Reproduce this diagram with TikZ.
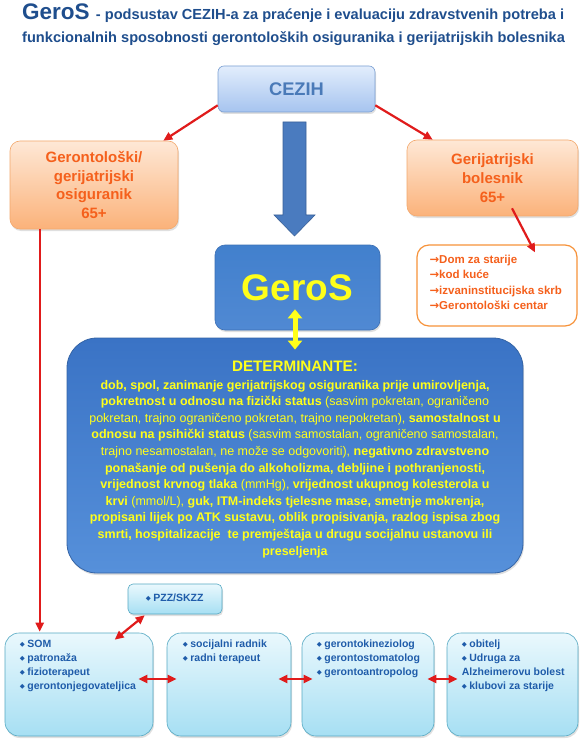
\documentclass[tikz,border=0pt]{standalone}
\usepackage{fontspec}
\setmainfont{Liberation Sans}
\newfontfamily\dejavu{DejaVu Sans}
\usetikzlibrary{arrows.meta,calc,shadows}
\definecolor{titleblue}{HTML}{1F4E8D}
\definecolor{cezihtext}{HTML}{4A7AB8}
\definecolor{cezihtop}{HTML}{E2EDFC}
\definecolor{cezihbot}{HTML}{A6C4EF}
\definecolor{cezihline}{HTML}{7A9FD3}
\definecolor{orangetext}{HTML}{F5601C}
\definecolor{orangetop}{HTML}{FEE8D6}
\definecolor{orangebot}{HTML}{FBB27A}
\definecolor{orangeline}{HTML}{F3A86C}
\definecolor{listline}{HTML}{F7923A}
\definecolor{arrowred}{HTML}{E01B1B}
\definecolor{bigarrow}{HTML}{4A7BBF}
\definecolor{bigarrowline}{HTML}{3A6199}
\definecolor{gerostop}{HTML}{4280CD}
\definecolor{gerosbot}{HTML}{5089D3}
\definecolor{gerosline}{HTML}{3B6FB5}
\definecolor{dettop}{HTML}{3A73C5}
\definecolor{detbot}{HTML}{5690DA}
\definecolor{detline}{HTML}{3464A6}
\definecolor{yel}{HTML}{FFFF1A}
\definecolor{cyantop}{HTML}{EAF8FD}
\definecolor{cyanbot}{HTML}{A6DFF3}
\definecolor{cyanline}{HTML}{55A9C3}
\definecolor{listblue}{HTML}{1F5CAA}
\newcommand\myfs[2]{\fontsize{#1}{#2}\selectfont}
\newcommand\mybul{{\dejavu\myfs{6.5}{7}\raisebox{0.8pt}{◆}}\hspace{2.5pt}}
\newcommand\myarr{{\dejavu\bfseries →}}
\begin{document}
\begin{tikzpicture}[x=1pt,y=-1pt,
  shad/.style={drop shadow={shadow xshift=1pt,shadow yshift=-2pt,opacity=0.25}},
  cezihbox/.style={shade,top color=cezihtop,bottom color=cezihbot,draw=cezihline,line width=0.6pt,rounded corners=6pt,shad,inner sep=0pt},
  orangebox/.style={shade,top color=orangetop,bottom color=orangebot,draw=orangeline,line width=0.6pt,rounded corners=10pt,shad,inner sep=0pt,align=center,text=orangetext,font=\bfseries\myfs{15}{18.7}},
  listbox/.style={fill=white,draw=listline,line width=1.2pt,rounded corners=12pt,inner sep=0pt},
  cyanbox/.style={shade,top color=cyantop,bottom color=cyanbot,draw=cyanline,line width=0.6pt,rounded corners=14pt,shad,inner sep=0pt},
  cyantext/.style={anchor=base west,inner sep=0pt,align=left,text=listblue,font=\bfseries\myfs{10.5}{14}},
  redarrow/.style={draw=arrowred,line width=2.2pt,-{Triangle[length=9pt,width=8pt]}},
  redboth/.style={draw=arrowred,line width=2.2pt,{Triangle[length=9pt,width=8pt]}-{Triangle[length=9pt,width=8pt]}},
  yelarrow/.style={draw=yel,line width=5pt,{Triangle[length=9pt,width=14pt]}-{Triangle[length=9pt,width=14pt]}}
]
\useasboundingbox[fill=white] (0,0) rectangle (585,743);

% title
\node[anchor=base west,inner sep=0pt,text=titleblue,font=\bfseries] (title1) at (22,20)
  {{\myfs{22.5}{26}GeroS }{\myfs{14.6}{16}- podsustav CEZIH-a za praćenje i evaluaciju zdravstvenih potreba i}};
\node[anchor=base west,inner sep=0pt,text=titleblue,font=\bfseries\myfs{14.6}{16}] (title2) at (22,43)
  {funkcionalnih sposobnosti gerontoloških osiguranika i gerijatrijskih bolesnika};

% top boxes
\node[cezihbox,minimum width=157pt,minimum height=46pt,text=cezihtext,font=\bfseries\myfs{18.3}{20}] (cezih) at (296.5,89) {CEZIH};
\node[orangebox,minimum width=168pt,minimum height=88pt] (geront) at (94,185) {Gerontološki/\\gerijatrijski\\osiguranik\\65+};
\node[orangebox,minimum width=171pt,minimum height=76pt] (gerijat) at (492.5,178) {Gerijatrijski\\bolesnik\\65+};

\node[listbox,minimum width=160pt,minimum height=81pt] (list) at (497,285.5) {};
\node[anchor=base west,inner sep=0pt,align=left,text=orangetext,font=\bfseries\myfs{11.5}{15.3}] (listtext) at ($(list.north west)+(13,65)$)
  {\myarr Dom za starije\\\myarr kod kuće\\\myarr izvaninstitucijska skrb\\\myarr Gerontološki centar};

% big arrow
\filldraw[fill=bigarrow,draw=bigarrowline,line width=0.6pt]
  (283,122) -- (306,122) -- (306,215) -- (315,215) -- (294.5,236) -- (274,215) -- (283,215) -- cycle;

% GeroS
\node[shade,top color=gerostop,bottom color=gerosbot,draw=gerosline,line width=0.6pt,rounded corners=10pt,shad,minimum width=165pt,minimum height=85pt,inner sep=0pt,text=yel,font=\bfseries\myfs{37}{40}] (geros) at (297.5,287.5) {GeroS};

% determinants
\node[shade,top color=dettop,bottom color=detbot,draw=detline,line width=0.8pt,rounded corners=30pt,shad,minimum width=456pt,minimum height=235pt,inner sep=0pt] (det) at (295,455.5) {};
\node[anchor=base,inner sep=0pt,text=yel,font=\bfseries\myfs{15.2}{18}] (dethead) at (295,371) {DETERMINANTE:};
\node[anchor=base,inner sep=0pt,align=center,text=yel,font=\myfs{12.5}{16.6}] (detbody) at (295,555)
  {\textbf{dob, spol, zanimanje gerijatrijskog osiguranika prije umirovljenja,}\\
   \textbf{pokretnost u odnosu na fizički status} (sasvim pokretan, ograničeno\\
   pokretan, trajno ograničeno pokretan, trajno nepokretan), \textbf{samostalnost u}\\
   \textbf{odnosu na psihički status} (sasvim samostalan, ograničeno samostalan,\\
   trajno nesamostalan, ne može se odgovoriti), \textbf{negativno zdravstveno}\\
   \textbf{ponašanje od pušenja do alkoholizma, debljine i pothranjenosti,}\\
   \textbf{vrijednost krvnog tlaka} (mmHg), \textbf{vrijednost ukupnog kolesterola u}\\
   \textbf{krvi} (mmol/L), \textbf{guk, ITM-indeks tjelesne mase, smetnje mokrenja,}\\
   \textbf{propisani lijek po ATK sustavu, oblik propisivanja, razlog ispisa zbog}\\
   \textbf{smrti, hospitalizacije\ \ te premještaja u drugu socijalnu ustanovu ili}\\
   \textbf{preseljenja}};

\draw[yelarrow] ($(geros.south)+(-2.5,-21)$) -- ($(det.north)+(0,12)$);

% bottom boxes
\node[cyanbox,minimum width=94pt,minimum height=30pt,rounded corners=5pt] (pzz) at (175,599) {};
\node[cyantext] (pzztext) at ($(pzz.north west)+(18,18)$) {\mybul PZZ/SKZZ};

\node[cyanbox,minimum width=148pt,minimum height=103pt] (b1) at (79,684.5) {};
\node[cyanbox,minimum width=124pt,minimum height=103pt] (b2) at (229,684.5) {};
\node[cyanbox,minimum width=132pt,minimum height=103pt] (b3) at (368,684.5) {};
\node[cyanbox,minimum width=131pt,minimum height=103pt] (b4) at (512.5,684.5) {};

\node[cyantext] (t1) at ($(b1.north west)+(15,57)$) {\mybul SOM\\\mybul patronaža\\\mybul fizioterapeut\\\mybul gerontonjegovateljica};
\node[cyantext] (t2) at ($(b2.north west)+(16,29)$) {\mybul socijalni radnik\\\mybul radni terapeut};
\node[cyantext] (t3) at ($(b3.north west)+(15,43)$) {\mybul gerontokineziolog\\\mybul gerontostomatolog\\\mybul gerontoantropolog};
\node[cyantext] (t4) at ($(b4.north west)+(15,57)$) {\mybul obitelj\\\mybul Udruga za\\Alzheimerovu bolest\\\mybul klubovi za starije};

% red arrows
\draw[redarrow] ($(cezih.south west)+(0,-7)$) -- ($(geront.north east)+(-15,0)$);
\draw[redarrow] ($(cezih.south east)+(0,-7)$) -- ($(gerijat.north west)+(26,0)$);
\draw[redarrow] ($(gerijat.south)+(19.5,-8)$) -- ($(list.north)+(38,8)$);
\draw[redarrow] ($(geront.south west)+(30,0)$) -- ($(b1.north west)+(35,-1)$);
\draw[redboth] ($(pzz.south west)+(17,1)$) -- ($(b1.north west)+(110,7)$);
\draw[redboth] ($(b1.east)+(-15,-5.5)$) -- ($(b2.west)+(10,-5.5)$);
\draw[redboth] ($(b2.east)+(-13,-5.5)$) -- ($(b3.west)+(11,-5.5)$);
\draw[redboth] ($(b3.east)+(-7,-5.5)$) -- ($(b4.west)+(11,-5.5)$);
\end{tikzpicture}
\end{document}
